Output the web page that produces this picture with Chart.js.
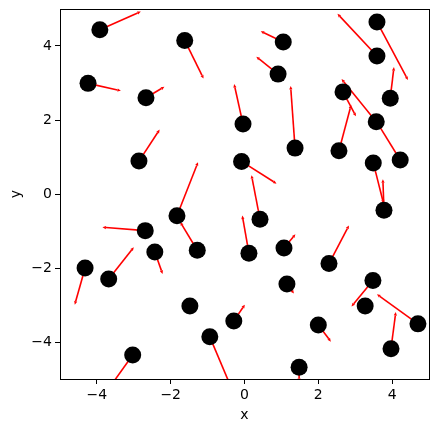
<!DOCTYPE html>
<html>
<head>
<meta charset="utf-8">
<script src="https://cdn.jsdelivr.net/npm/chart.js@4/dist/chart.umd.min.js"></script>
<style>
html,body{margin:0;padding:0;background:#fff;}
#wrap{width:439px;height:432px;}
</style>
</head>
<body>
<div id="wrap"><canvas id="c" width="439" height="432"></canvas></div>
<script>
// point positions
const X = [-3.92,-1.62,-4.24,-2.67,-2.86,-0.04,-0.08,-1.83,1.05,0.91,3.59,3.59,3.95,2.67,3.57,4.22,2.56,1.37,3.49,3.78,-2.69,-2.43,-1.28,-4.32,-3.68,-1.48,-0.94,-0.29,-3.03,0.42,0.12,1.07,1.15,2.29,3.48,3.27,4.70,3.97,2.00,1.48];
const Y = [4.44,4.15,2.99,2.60,0.89,1.89,0.88,-0.59,4.11,3.24,4.65,3.73,2.59,2.76,1.95,0.92,1.17,1.24,0.84,-0.44,-0.99,-1.57,-1.52,-2.00,-2.30,-3.03,-3.86,-3.43,-4.35,-0.68,-1.60,-1.46,-2.43,-1.88,-2.34,-3.03,-3.51,-4.18,-3.54,-4.68];
// arrow components
const U = [1.11,0.51,0.89,0.50,0.56,-0.24,0.95,0.57,-0.61,-0.59,0.84,-1.07,0.10,0.35,-0.94,-0.62,0.33,-0.12,0.28,-0.03,-1.16,0.21,-0.46,-0.28,0.68,0.05,0.55,0.30,-0.60,-0.23,-0.18,0.31,0.19,0.54,-0.58,0.05,-1.11,0.13,0.34,0.00];
const V = [0.49,-1.03,-0.20,0.30,0.85,1.08,-0.60,1.45,0.29,0.47,-1.57,1.14,0.84,-0.66,1.16,1.00,1.24,1.68,-1.10,0.84,0.09,-0.59,0.76,-0.99,0.86,0.05,-1.30,0.44,-0.84,1.19,1.02,0.37,-0.26,1.03,-0.70,-0.05,0.80,0.99,-0.45,-0.40];
const TICKS = [-4,-2,0,2,4];

const FONT = "'DejaVu Sans', sans-serif";

const quiver = {
  id: 'quiver',
  beforeDatasetsDraw(chart) {
    const {ctx, chartArea: a, scales: {x, y}} = chart;
    ctx.save();
    ctx.beginPath();
    ctx.rect(a.left, a.top, a.right - a.left, a.bottom - a.top);
    ctx.clip();
    ctx.strokeStyle = '#ff0000';
    ctx.fillStyle = '#ff0000';
    ctx.lineWidth = 1.6;
    for (let i = 0; i < X.length; i++) {
      const x0 = x.getPixelForValue(X[i]), y0 = y.getPixelForValue(Y[i]);
      const x1 = x.getPixelForValue(X[i] + U[i]), y1 = y.getPixelForValue(Y[i] + V[i]);
      const dx = x1 - x0, dy = y1 - y0, L = Math.hypot(dx, dy);
      if (L < 0.5) continue;
      const ux = dx / L, uy = dy / L;
      const hl = Math.min(3.5, L * 0.5), hw = 1.6;
      const bx = x1 - ux * hl, by = y1 - uy * hl;
      ctx.beginPath();
      ctx.moveTo(x0, y0);
      ctx.lineTo(bx, by);
      ctx.stroke();
      ctx.beginPath();
      ctx.moveTo(x1, y1);
      ctx.lineTo(bx - uy * hw, by + ux * hw);
      ctx.lineTo(bx + uy * hw, by - ux * hw);
      ctx.closePath();
      ctx.fill();
    }
    ctx.restore();
  },
  afterDraw(chart) {
    const {ctx, chartArea: a} = chart;
    ctx.save();
    ctx.strokeStyle = '#000';
    ctx.lineWidth = 1;
    ctx.strokeRect(Math.round(a.left) + 0.5, Math.round(a.top) + 0.5, Math.round(a.right - a.left), Math.round(a.bottom - a.top));
    ctx.restore();
  }
};

const fmt = v => (v < 0 ? '\u2212' + Math.abs(v) : String(v));

function axis(titleText, isX) {
  return {
    type: 'linear',
    min: -5, max: 5,
    afterBuildTicks(s) { s.ticks = TICKS.map(v => ({value: v})); },
    afterFit(s) {
      if (isX) { s.height = 53; s.paddingLeft = 0; s.paddingRight = 0; }
      else { s.width = 60; s.paddingTop = 0; s.paddingBottom = 0; }
    },
    grid: {drawOnChartArea: false, drawTicks: true, tickLength: 5, color: '#000', lineWidth: 1},
    border: {display: true, color: '#000', width: 1},
    ticks: {color: '#000', font: {family: FONT, size: 14}, padding: 3, callback: fmt, maxRotation: 0},
    title: {display: true, text: titleText, color: '#000', font: {family: FONT, size: 14},
            padding: isX ? {top: 2, bottom: 8} : {top: 8, bottom: 2}}
  };
}

new Chart(document.getElementById('c'), {
  type: 'scatter',
  data: {
    datasets: [{
      data: X.map((v, i) => ({x: v, y: Y[i]})),
      pointRadius: 8.5,
      pointBackgroundColor: '#000',
      pointBorderWidth: 0,
      clip: false
    }]
  },
  options: {
    responsive: false,
    devicePixelRatio: 1,
    animation: false,
    layout: {padding: {top: 9, right: 10, left: 0, bottom: 0}},
    plugins: {legend: {display: false}, tooltip: {enabled: false}},
    scales: {x: axis('x', true), y: axis('y', false)}
  },
  plugins: [quiver]
});
</script>
</body>
</html>
